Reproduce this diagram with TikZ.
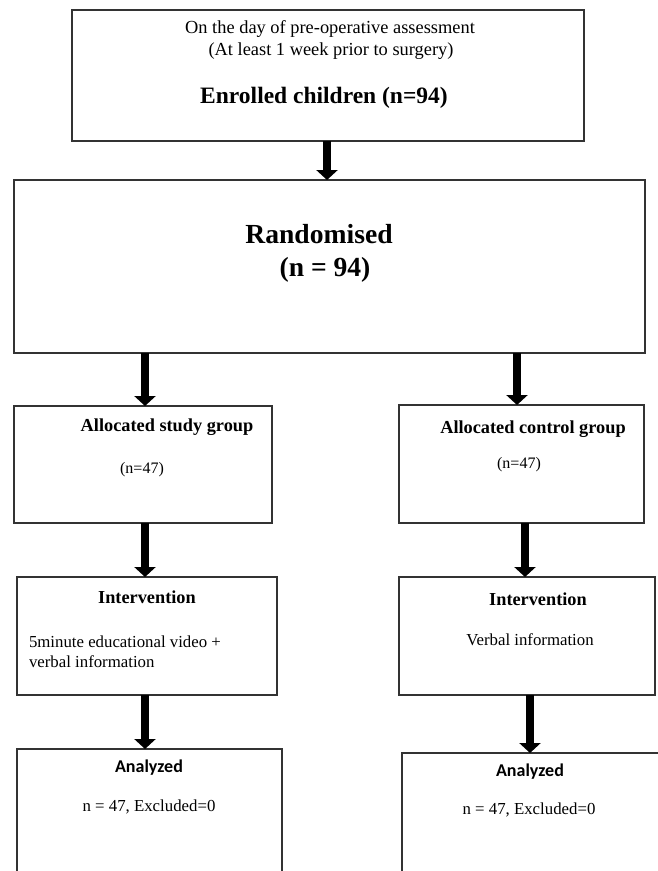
\documentclass[tikz,border=0pt]{standalone}
\usepackage{fontspec}
\setmainfont{Liberation Serif}
\newfontfamily\calibrifont{Carlito}
\usetikzlibrary{arrows.meta}
\tikzset{
  box/.style={draw=black!80, line width=1.2pt, fill=white, inner sep=0pt, outer sep=0pt},
  arr/.style={line width=8.5pt, -{Triangle[width=21pt,length=10pt]}},
  txt/.style={inner sep=0pt, outer sep=0pt, anchor=center},
  regtext/.style={txt, font=\fontsize{16.8}{20}\selectfont},
  headtext/.style={txt, font=\fontsize{18.3}{22}\selectfont\bfseries},
  anatext/.style={txt, font=\fontsize{18}{22}\selectfont\calibrifont\bfseries},
}
\begin{document}
\begin{tikzpicture}[x=1pt,y=-1pt]
\clip (0,0) rectangle (658,871);
\fill[white] (0,0) rectangle (658,871);
% boxes
\node[box, minimum width=512pt, minimum height=131pt] (top) at (328,75.5) {};
\node[box, minimum width=631pt, minimum height=173pt] (rand) at (329.5,266.5) {};
\node[box, minimum width=258pt, minimum height=117pt] (allocL) at (143,464.5) {};
\node[box, minimum width=245pt, minimum height=118pt] (allocR) at (521.5,464) {};
\node[box, minimum width=260pt, minimum height=118pt] (intL) at (147,636) {};
\node[box, minimum width=256pt, minimum height=118pt] (intR) at (527,636) {};
\node[box, minimum width=265pt, minimum height=160pt] (anaL) at (149.5,829) {};
\node[box, minimum width=300pt, minimum height=160pt] (anaR) at (552,833) {};
% texts
\node[txt, font=\fontsize{18.4}{22}\selectfont] (t1) at (330,29) {On the day of pre-operative assessment};
\node[txt, font=\fontsize{18.4}{22}\selectfont] (t2) at (331,51) {(At least 1 week prior to surgery)};
\node[txt, font=\fontsize{23.5}{28}\selectfont\bfseries] (t3) at (324,98) {Enrolled children (n=94)};
\node[txt, font=\fontsize{27.6}{32}\selectfont\bfseries] (t4) at (319,234) {Randomised};
\node[txt, font=\fontsize{27.6}{32}\selectfont\bfseries] (t5) at (325,270) {(n = 94)};
\node[headtext] (t6) at (167,427) {Allocated study group};
\node[regtext, font=\fontsize{16}{20}\selectfont] (t7) at (142,470) {(n=47)};
\node[headtext] (t8) at (533,429) {Allocated control group};
\node[regtext, font=\fontsize{16}{20}\selectfont] (t9) at (519,465) {(n=47)};
\node[headtext] (t10) at (147,597) {Intervention};
\node[regtext, anchor=west, align=left] (t11) at (29,652) {5minute educational video +\\verbal information};
\node[headtext] (t12) at (538,599) {Intervention};
\node[regtext] (t13) at (530,640) {Verbal information};
\node[anatext] (t14) at (149,768) {Analyzed};
\node[regtext] (t15) at (149,807) {n = 47, Excluded=0};
\node[anatext] (t16) at (530,772) {Analyzed};
\node[regtext] (t17) at (529,810) {n = 47, Excluded=0};
% arrows
\draw[arr] (327,0 |- top.south) -- (327,0 |- rand.north);
\draw[arr] (145,0 |- rand.south) -- (145,0 |- allocL.north);
\draw[arr] (517,0 |- rand.south) -- (517,0 |- allocR.north);
\draw[arr] (145,0 |- allocL.south) -- (145,0 |- intL.north);
\draw[arr] (525,0 |- allocR.south) -- (525,0 |- intR.north);
\draw[arr] (145,0 |- intL.south) -- (145,0 |- anaL.north);
\draw[arr] (530,0 |- intR.south) -- (530,0 |- anaR.north);
\end{tikzpicture}
\end{document}
